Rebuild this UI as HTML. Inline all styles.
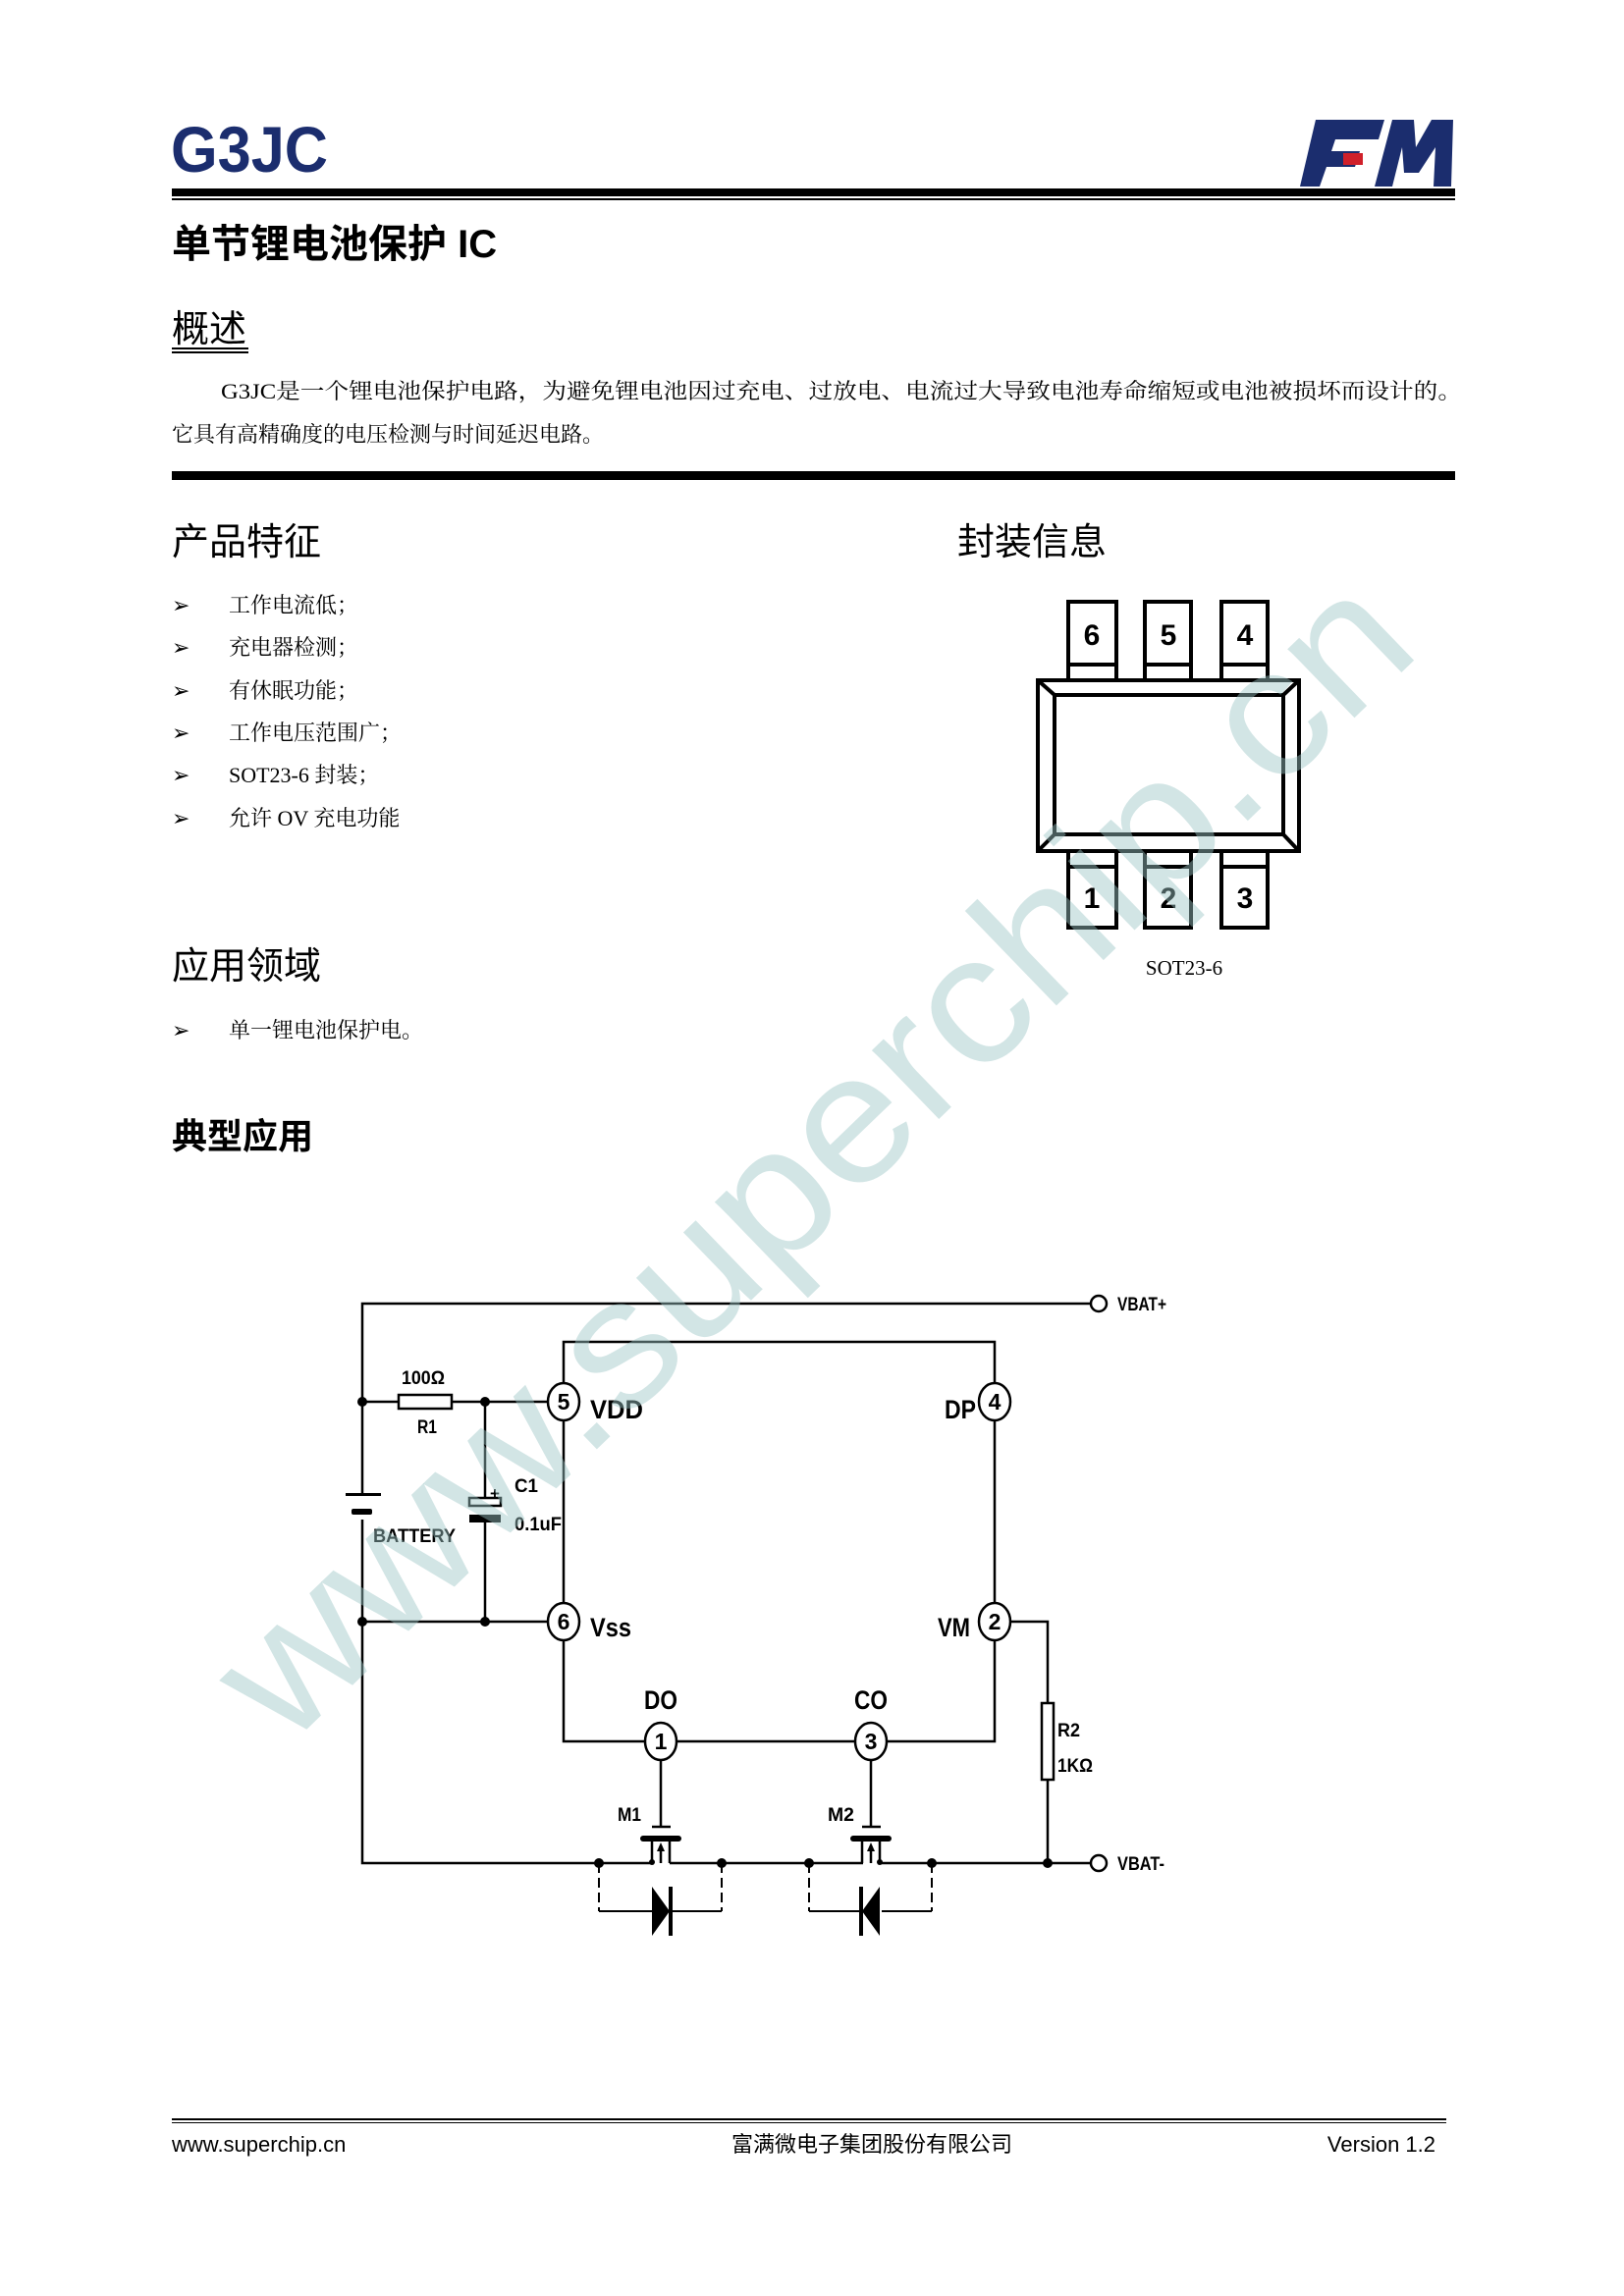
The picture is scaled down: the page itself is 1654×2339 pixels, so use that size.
<!DOCTYPE html>
<html><head><meta charset="utf-8"><style>
html,body{margin:0;padding:0;background:#fff}
svg{display:block}
.cj{font-family:"Liberation Sans","Noto Sans CJK SC",sans-serif}
.sr{font-family:"Liberation Serif","Noto Serif CJK SC",serif}
.lb{font-family:"Liberation Sans",sans-serif;font-weight:bold}
</style></head><body>
<svg width="1654" height="2339" viewBox="0 0 1654 2339" xmlns="http://www.w3.org/2000/svg">
<!-- header -->
<text x="174" y="175" class="lb" font-size="66" fill="#1b2d6e" textLength="160" lengthAdjust="spacingAndGlyphs">G3JC</text>
<g transform="translate(-10,0)">
<g fill="#1b2d6e">
<polygon points="1350,122 1420,122 1414,142 1370,142 1366,154 1395,154 1390,170 1361,170 1354,190 1334,190"/>
<polygon points="1410,190 1428,122 1450,122 1452,150 1468,122 1490,122 1488,190 1470,190 1472,150 1455,176 1440,176 1438,150 1428,190"/>
</g>
<rect x="1378" y="156" width="20" height="12" fill="#d0202a"/>
</g>
<rect x="175" y="192" width="1307" height="8" fill="#000"/>
<rect x="175" y="202" width="1307" height="2" fill="#000"/>
<text x="175" y="262" class="cj" font-size="40" font-weight="bold">单节锂电池保护 IC</text>
<text x="175" y="348" class="cj" font-size="38">概述</text>
<rect x="175" y="354" width="78" height="2" fill="#000"/><rect x="175" y="358" width="78" height="2" fill="#000"/>
<text x="225" y="406" class="sr" font-size="22" textLength="1264" lengthAdjust="spacingAndGlyphs">G3JC是一个锂电池保护电路，为避免锂电池因过充电、过放电、电流过大导致电池寿命缩短或电池被损坏而设计的。</text>
<text x="175" y="450" class="sr" font-size="22">它具有高精确度的电压检测与时间延迟电路。</text>
<rect x="175" y="480" width="1307" height="9" fill="#000"/>
<text x="175" y="565" class="cj" font-size="38">产品特征</text>
<text x="975" y="565" class="cj" font-size="38">封装信息</text>
<g class="sr" font-size="22">
<text x="175" y="624">➢</text><text x="233" y="624">工作电流低；</text>
<text x="175" y="667">➢</text><text x="233" y="667">充电器检测；</text>
<text x="175" y="711">➢</text><text x="233" y="711">有休眠功能；</text>
<text x="175" y="754">➢</text><text x="233" y="754">工作电压范围广；</text>
<text x="175" y="797">➢</text><text x="233" y="797">SOT23-6 封装；</text>
<text x="175" y="841">➢</text><text x="233" y="841">允许 OV 充电功能</text>
<text x="175" y="1057">➢</text><text x="233" y="1057">单一锂电池保护电。</text>
</g>
<text x="175" y="997" class="cj" font-size="38">应用领域</text>
<text x="175" y="1170" class="cj" font-size="36" font-weight="bold">典型应用</text>
<!-- package -->
<g fill="none" stroke="#000" stroke-width="4">
<rect x="1088" y="613" width="49" height="80"/><line x1="1088" y1="677" x2="1137" y2="677"/>
<rect x="1166" y="613" width="47" height="80"/><line x1="1166" y1="677" x2="1213" y2="677"/>
<rect x="1244" y="613" width="47" height="80"/><line x1="1244" y1="677" x2="1291" y2="677"/>
<rect x="1088" y="867" width="49" height="78"/><line x1="1088" y1="883" x2="1137" y2="883"/>
<rect x="1166" y="867" width="47" height="78"/><line x1="1166" y1="883" x2="1213" y2="883"/>
<rect x="1244" y="867" width="47" height="78"/><line x1="1244" y1="883" x2="1291" y2="883"/>
<rect x="1057" y="693" width="266" height="174" fill="#fff"/>
<rect x="1074" y="708" width="233" height="142"/>
<path d="M1057 693L1074 708M1323 693L1307 708M1057 867L1074 850M1323 867L1307 850"/>
</g>
<g class="lb" font-size="30" text-anchor="middle">
<text x="1112" y="657">6</text><text x="1190" y="657">5</text><text x="1268" y="657">4</text>
<text x="1112" y="925">1</text><text x="1190" y="925">2</text><text x="1268" y="925">3</text>
</g>
<text x="1206" y="993" class="sr" font-size="21" text-anchor="middle">SOT23-6</text>
<!-- circuit -->
<g fill="none" stroke="#000" stroke-width="2.5">
<path d="M1111 1328H369V1522M369 1548V1898H665"/>
<path d="M682 1898H879M896 1898H1111"/>
<path d="M574 1409V1367H1013V1409M574 1447V1633M1013 1447V1633M574 1671V1774H657M689 1774H871M903 1774H1013V1671"/>
<path d="M369 1428H406M460 1428H558M494 1428V1526M494 1550V1652M369 1652H558M1029 1652H1067V1735M1067 1813V1898"/>
<rect x="406" y="1421" width="54" height="14"/>
<rect x="1061" y="1735" width="12" height="78"/>
<rect x="478" y="1526" width="32" height="8"/>
<ellipse cx="574" cy="1428" rx="16" ry="19"/><ellipse cx="1013" cy="1428" rx="16" ry="19"/>
<ellipse cx="574" cy="1652" rx="16" ry="19"/><ellipse cx="1013" cy="1652" rx="16" ry="19"/>
<ellipse cx="673" cy="1774" rx="16" ry="19"/><ellipse cx="887" cy="1774" rx="16" ry="19"/>
<circle cx="1119" cy="1328" r="8"/><circle cx="1119" cy="1898" r="8"/>
<path d="M673 1793V1861M664 1861H683M887 1793V1861M878 1861H897"/>
<path d="M664 1898V1873M682 1898V1873M878 1898V1873M896 1898V1873"/>
<path d="M673 1898V1880M887 1898V1880"/>
</g>
<g stroke="#000" stroke-width="2" fill="none" stroke-dasharray="10,5">
<path d="M610 1898V1947M735 1898V1947M824 1898V1947M949 1898V1947"/>
</g>
<g stroke="#000" stroke-width="2" fill="none">
<path d="M610 1947H664M684 1947H735M824 1947H878M898 1947H949"/>
</g>
<g stroke="#000" stroke-width="6" stroke-linecap="round">
<line x1="655" y1="1873" x2="691" y2="1873"/><line x1="869" y1="1873" x2="905" y2="1873"/>
</g>
<polygon points="669,1886 673,1877 677,1886"/><polygon points="883,1886 887,1877 891,1886"/>
<polygon points="664,1922 682,1947 664,1972"/><rect x="681" y="1922" width="4" height="50"/>
<polygon points="896,1922 878,1947 896,1972"/><rect x="875" y="1922" width="4" height="50"/>
<rect x="352" y="1521" width="36" height="3"/>
<rect x="358" y="1537" width="21" height="6" rx="2"/>
<rect x="478" y="1543" width="32" height="8"/>
<g fill="#000">
<circle cx="369" cy="1428" r="5"/><circle cx="494" cy="1428" r="5"/>
<circle cx="369" cy="1652" r="5"/><circle cx="494" cy="1652" r="5"/>
<circle cx="610" cy="1898" r="5"/><circle cx="735" cy="1898" r="5"/>
<circle cx="824" cy="1898" r="5"/><circle cx="949" cy="1898" r="5"/>
<circle cx="1067" cy="1898" r="5"/><circle cx="664" cy="1897" r="3"/><circle cx="896" cy="1897" r="3"/>
</g>
<g class="lb" font-size="23" text-anchor="middle">
<text x="574" y="1436">5</text><text x="1013" y="1436">4</text>
<text x="574" y="1660">6</text><text x="1013" y="1660">2</text>
<text x="673" y="1782">1</text><text x="887" y="1782">3</text>
</g>
<g class="lb" font-size="27">
<text x="601" y="1445" textLength="54" lengthAdjust="spacingAndGlyphs">VDD</text>
<text x="962" y="1445" textLength="32" lengthAdjust="spacingAndGlyphs">DP</text>
<text x="601" y="1667" textLength="42" lengthAdjust="spacingAndGlyphs">Vss</text>
<text x="955" y="1667" textLength="33" lengthAdjust="spacingAndGlyphs">VM</text>
<text x="656" y="1741" textLength="34" lengthAdjust="spacingAndGlyphs">DO</text>
<text x="870" y="1741" textLength="34" lengthAdjust="spacingAndGlyphs">CO</text>
</g>
<g class="lb" font-size="19">
<text x="1138" y="1335" textLength="50" lengthAdjust="spacingAndGlyphs">VBAT+</text>
<text x="1138" y="1905" textLength="48" lengthAdjust="spacingAndGlyphs">VBAT-</text>
<text x="409" y="1410" textLength="44" lengthAdjust="spacingAndGlyphs">100Ω</text>
<text x="425" y="1460" textLength="20" lengthAdjust="spacingAndGlyphs">R1</text>
<text x="524" y="1520" textLength="24" lengthAdjust="spacingAndGlyphs">C1</text>
<text x="524" y="1559" textLength="48" lengthAdjust="spacingAndGlyphs">0.1uF</text>
<text x="380" y="1571" textLength="84" lengthAdjust="spacingAndGlyphs">BATTERY</text>
<text x="1077" y="1769" textLength="23" lengthAdjust="spacingAndGlyphs">R2</text>
<text x="1077" y="1805" textLength="36" lengthAdjust="spacingAndGlyphs">1KΩ</text>
<text x="629" y="1855" textLength="24" lengthAdjust="spacingAndGlyphs">M1</text>
<text x="843" y="1855" textLength="27" lengthAdjust="spacingAndGlyphs">M2</text>
<text x="499" y="1527" font-size="17">+</text>
</g>
<!-- watermark -->
<text x="828" y="1240" transform="rotate(-44 828 1179)" text-anchor="middle" font-family="Liberation Sans,sans-serif" font-size="185" fill="#9cc6c6" fill-opacity="0.45" textLength="1610" lengthAdjust="spacingAndGlyphs">www.superchip.cn</text>
<!-- footer -->
<rect x="175" y="2158" width="1298" height="2" fill="#000"/>
<rect x="175" y="2162" width="1298" height="1" fill="#000"/>
<text x="175" y="2192" class="cj" font-size="22">www.superchip.cn</text>
<text x="888" y="2192" class="cj" font-size="22" text-anchor="middle">富满微电子集团股份有限公司</text>
<text x="1462" y="2192" class="cj" font-size="22" text-anchor="end">Version 1.2</text>
</svg>
</body></html>
